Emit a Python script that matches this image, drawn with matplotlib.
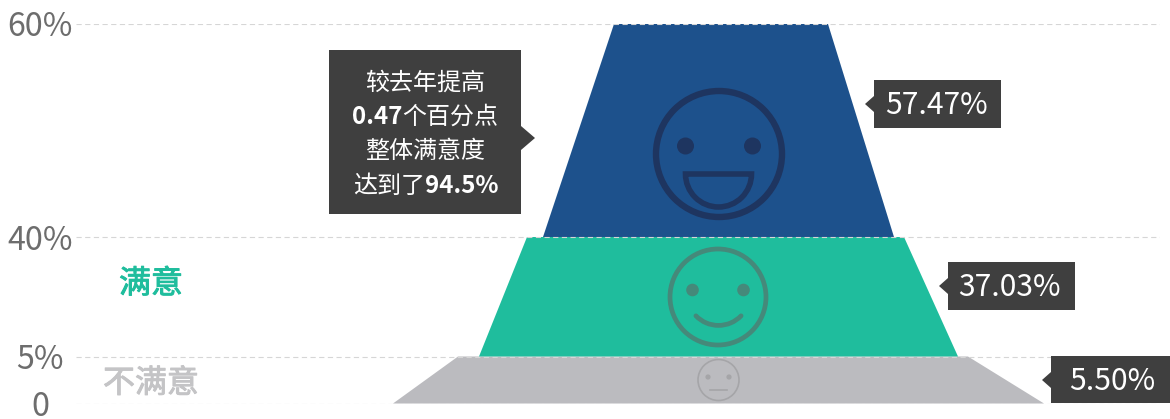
import numpy as np
import matplotlib
matplotlib.use("Agg")
import matplotlib.pyplot as plt
import matplotlib.patheffects as pe
from matplotlib.patches import Circle, Polygon, Rectangle, Wedge, Arc
from matplotlib.transforms import Affine2D

plt.rcParams["font.family"] = ["Noto Sans CJK SC", "DejaVu Sans"]

# tiers of the funnel, bottom to top
tier_low = [0, 5, 40]
tier_high = [5, 40, 60]
tier_labels = ["5.50%", "37.03%", "57.47%"]
tier_colors = ["#bbbbbf", "#1fbd9d", "#1d518c"]

# funnel edges on the x axis (same units as image pixels)
left_low = [393, 479, 543]
left_high = [458, 527, 614]
right_low = [1044, 958, 894]
right_high = [968, 904, 828]

y_ticks = [0, 5, 40, 60]
y_tick_labels = ["0", "5%", "40%", "60%"]
tick_pos = [0, 47, 166.5, 379.5]  # axis is not linear, height of each tick

W, H = 1170, 419
fig = plt.figure(figsize=(W / 100, H / 100), dpi=100)
ax = fig.add_axes([76 / W, (H - 403.5) / H, (1160 - 76) / W, 379.5 / H])


def forward(v):
    return np.interp(v, y_ticks, tick_pos)


def inverse(v):
    return np.interp(v, tick_pos, y_ticks)


ax.set_yscale("function", functions=(forward, inverse))
ax.set_xlim(76, 1160)
ax.set_ylim(0, 60)
ax.set_xticks([])
ax.set_yticks(y_ticks)
ax.set_yticklabels(y_tick_labels, fontsize=23.2, color="#6d6d6d")
ax.minorticks_off()
ax.tick_params(axis="y", length=0, pad=25.9)
for lab in ax.get_yticklabels():
    lab.set_ha("center")
for s in ax.spines.values():
    s.set_visible(False)
ax.patch.set_alpha(0)
ax.set_axisbelow(False)
ax.grid(axis="y", color="#d6d6d6", lw=0.8, ls=(0, (4.7, 3.1)))

for i in range(3):
    pts = [(left_low[i], tier_low[i]), (right_low[i], tier_low[i]),
           (right_high[i], tier_high[i]), (left_high[i], tier_high[i])]
    ax.add_patch(Polygon(pts, closed=True, fc=tier_colors[i], ec="none", clip_on=False, zorder=1))

# decorations are placed in image pixels, y going down
px = Affine2D().scale(1, -1).translate(0, H)


def add(p):
    p.set_transform(px)
    p.set_clip_on(False)
    fig.add_artist(p)


def callout(x0, x1, y0, y1, tip, tip_y, half):
    edge = x1 if tip > x1 else x0
    add(Rectangle((x0, y0), x1 - x0, y1 - y0, fc="#3f3f3f", ec="none", zorder=1))
    add(Polygon([(edge, tip_y - half), (tip, tip_y), (edge, tip_y + half)], closed=True,
                fc="#3f3f3f", ec="none", zorder=1))


def face(cx, cy, r, lw, col, eye_dx, eye_dy, eye_r):
    add(Circle((cx, cy), r, fc="none", ec=col, lw=lw, zorder=2))
    for sx in (-1, 1):
        add(Circle((cx + sx * eye_dx, cy + eye_dy), eye_r, fc=col, ec="none", zorder=2))


# big grin
face(719, 154, 63, 4.6, "#1e3560", 33.5, -8, 8.5)
add(Wedge((718.5, 174), 33, 0, 180, fc="none", ec="#1e3560", lw=4, zorder=2))
# smile
face(718, 297, 48, 3.4, "#45897a", 25.5, -7, 6.3)
add(Arc((718.5, 294), 62.8, 62.8, theta1=44, theta2=136, ec="#45897a", lw=3.4, capstyle="round", zorder=2))
# neutral
face(718.5, 380, 20.5, 1.2, "#a5a5a8", 10.5, -3, 2.6)
add(plt.Line2D([710, 727], [390, 390], color="#a5a5a8", lw=1.2, transform=px, zorder=2))

callout(329, 521, 49.5, 213.5, 535, 138, 12)
callout(874, 1001, 80, 128, 865, 104, 8)
callout(948, 1075, 262, 310, 939, 286, 8)
callout(1051, 1172, 356, 403, 1042, 380, 8)


def px_text(x, y, s, **kw):
    return fig.text(x, y, s, transform=px, va="center", zorder=3, **kw)


px_text(936.5, 105.5, tier_labels[2], ha="center", color="white", fontsize=21.6)
px_text(1009.5, 287, tier_labels[1], ha="center", color="white", fontsize=21.6)
px_text(1112.5, 381.5, tier_labels[0], ha="center", color="white", fontsize=21.6)

# the font has no medium weight here, a thin stroke thickens it
t1 = px_text(151, 284, "满意", ha="center", color="#1fbd9d", fontsize=23)
t1.set_path_effects([pe.withStroke(linewidth=0.7, foreground="#1fbd9d")])
t2 = px_text(151, 383.5, "不满意", ha="center", color="#c4c4c6", fontsize=23)
t2.set_path_effects([pe.withStroke(linewidth=0.7, foreground="#c4c4c6")])

# note box, some parts of a line are bold
note_lines = [
    [("较去年提高", "normal")],
    [("0.47", "bold"), ("个百分点", "normal")],
    [("整体满意度", "normal")],
    [("达到了", "normal"), ("94.5%", "bold")],
]
note_y = [82.5, 117, 151, 186]
renderer = fig.canvas.get_renderer()
for parts, y in zip(note_lines, note_y):
    items = [px_text(0, y, s, ha="left", color="white", fontsize=17.3, fontweight=w) for s, w in parts]
    widths = [t.get_window_extent(renderer).width for t in items]
    x = 425.5 - sum(widths) / 2
    for t, w in zip(items, widths):
        t.set_x(x)
        x += w

fig.savefig("out.png", dpi=100)
